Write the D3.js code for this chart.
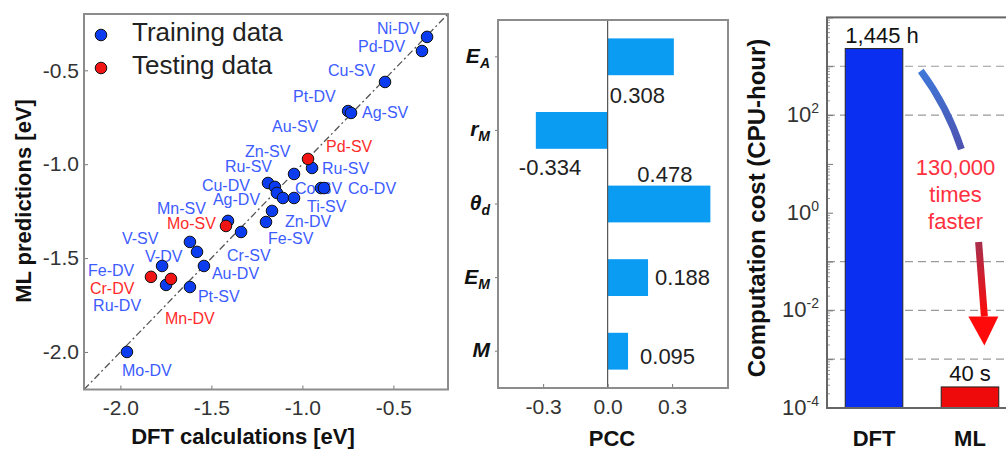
<!DOCTYPE html>
<html>
<head>
<meta charset="utf-8">
<script src="https://cdn.jsdelivr.net/npm/d3@7"></script>
<style>
  body { margin: 0; background: #fff; }
  svg { display: block; }
</style>
</head>
<body>
<svg id="chart" width="1006" height="450"></svg>
<script>
const FONT = '"Liberation Sans", Arial, Helvetica, sans-serif';

// ---------- (a) DFT vs ML formation energies ----------
const sites = ["Ni-DV","Pd-DV","Cu-SV","Pt-DV","Ag-SV","Pd-SV","Ru-SV","Au-SV","Zn-SV","Ru-SV",
               "Cu-DV","Ag-DV","Ti-SV","Co-SV","Co-DV","Zn-DV","Fe-SV","Mn-SV","Mo-SV","Cr-SV",
               "V-SV","V-DV","Au-DV","Fe-DV","Cr-DV","Mn-DV","Ru-DV","Pt-SV","Mo-DV"];
const dftEnergy = [-0.315,-0.343,-0.546,-0.749,-0.733,-0.969,-0.947,-1.046,-1.189,-1.151,
                   -1.140,-1.107,-1.046,-0.898,-0.881,-1.167,-1.200,-1.409,-1.420,-1.337,
                   -1.618,-1.579,-1.541,-1.771,-1.832,-1.722,-1.749,-1.618,-1.964];
const mlEnergy  = [-0.322,-0.397,-0.562,-0.717,-0.727,-0.972,-1.020,-1.052,-1.100,-1.121,
                   -1.153,-1.180,-1.180,-1.127,-1.127,-1.249,-1.308,-1.302,-1.329,-1.361,
                   -1.414,-1.467,-1.542,-1.542,-1.600,-1.611,-1.643,-1.654,-2.000];
const dataSet   = ["train","train","train","train","train","test","train","train","train","train",
                   "train","train","train","train","train","train","train","train","test","train",
                   "train","train","train","train","test","test","train","train","train"];
const energyTicks = [-2.0, -1.5, -1.0, -0.5];

// ---------- (b) Pearson correlation of features ----------
const features = ["E_A", "r_M", "θ_d", "E_M", "M"];
const pcc = [0.308, -0.334, 0.478, 0.188, 0.095];
const pccTicks = [-0.3, 0.0, 0.3];

// ---------- (c) computation cost ----------
const methods = ["DFT", "ML"];
const cpuHours = [2300, 2.7e-4];
const costLabels = ["1,445 h", "40 s"];
const gridDecades = [1e-3, 1e-2, 1e-1, 1e2, 1e3];
const speedupText = ["130,000", "times", "faster"];

// label nudges (pixels), kept apart from the data
const siteLabelShift = [[-50,-3],[-64,1],[-57,-6],[-55,-9],[11,5],[18,-7],[10,6],[-22,-42],[-23,-26],[-50,-15],
                        [-75,-2],[-70,7],[13,14],[-26,6],[24,6],[13,16],[2,22],[-71,-7],[-59,3],[-14,29],
                        [-68,2],[-52,10],[8,13],[-74,10],[-61,17],[-6,45],[-73,26],[8,15],[-5,24]];
const pccLabelShift = [[-64,46],[-17,45],[-73,-22],[7,7],[12,13]];

const svg = d3.select("#chart").style("font-family", FONT);

const blueDot = "#0b3cf0", redDot = "#f01414";
const blueTxt = "#3c5cff", redTxt = "#ff2b2b";
const frameCol = "#8c8c8c";

function styleAxis(g, size) {
  g.select(".domain").remove();
  g.selectAll("line").attr("stroke", "#777");
  g.selectAll("text").attr("font-size", size).attr("fill", "#333").attr("font-family", FONT);
}

// ================= panel a =================
const ax = d3.scaleLinear().domain([-2.2, -0.2]).range([84, 448]);
const ay = d3.scaleLinear().domain([-2.2, -0.2]).range([389.5, 14]);
const gA = svg.append("g");

gA.append("line")
  .attr("x1", ax(-2.2)).attr("y1", ay(-2.2))
  .attr("x2", ax(-0.2)).attr("y2", ay(-0.2))
  .attr("stroke", "#555").attr("stroke-width", 1.3)
  .attr("stroke-dasharray", "7,3,2,3");

gA.append("g").attr("transform", "translate(84,0)")
  .call(d3.axisLeft(ay).tickValues(energyTicks).tickSize(-4).tickPadding(5).tickFormat(d => d.toFixed(1)))
  .call(g => styleAxis(g, 21));
gA.append("g").attr("transform", "translate(0,389.5)")
  .call(d3.axisBottom(ax).tickValues(energyTicks).tickSize(-4).tickPadding(11).tickFormat(d => d.toFixed(1)))
  .call(g => styleAxis(g, 21));

const pts = sites.map((s, i) => ({ name: s, x: dftEnergy[i], y: mlEnergy[i], set: dataSet[i], shift: siteLabelShift[i] }));

gA.selectAll("text.site")
  .data(pts)
  .enter()
  .append("text")
  .attr("class", "site")
  .attr("x", d => ax(d.x) + d.shift[0])
  .attr("y", d => ay(d.y) + d.shift[1])
  .attr("font-size", 16)
  .attr("fill", d => d.set === "test" ? redTxt : blueTxt)
  .text(d => d.name);

gA.selectAll("circle.pt")
  .data(pts.filter(d => d.set === "train").concat(pts.filter(d => d.set === "test")))
  .enter()
  .append("circle")
  .attr("class", "pt")
  .attr("cx", d => ax(d.x))
  .attr("cy", d => ay(d.y))
  .attr("r", 5.8)
  .attr("fill", d => d.set === "test" ? redDot : blueDot)
  .attr("stroke", "#111")
  .attr("stroke-width", 1);

// legend
const legendItems = [["Training data", blueDot, 35], ["Testing data", redDot, 68]];
legendItems.forEach(([label, col, yy]) => {
  gA.append("circle").attr("cx", 101).attr("cy", yy).attr("r", 5.8).attr("fill", col).attr("stroke", "#111");
  gA.append("text").attr("x", 132).attr("y", yy + 6).attr("font-size", 26).attr("fill", "#222").text(label);
});

gA.append("rect").attr("x", 84).attr("y", 14).attr("width", 364).attr("height", 375.5)
  .attr("fill", "none").attr("stroke", frameCol).attr("stroke-width", 2);

gA.append("text").attr("x", 243).attr("y", 444).attr("text-anchor", "middle")
  .attr("font-size", 22).attr("font-weight", "bold").attr("fill", "#111")
  .text("DFT calculations [eV]");
gA.append("text").attr("transform", "translate(31,201) rotate(-90)").attr("text-anchor", "middle")
  .attr("font-size", 22).attr("font-weight", "bold").attr("fill", "#111")
  .text("ML predictions [eV]");

// ================= panel b =================
const bx = d3.scaleLinear().domain([-0.51, 0.56]).range([498, 728]);
const by = d3.scaleBand().domain(features).range([20, 388]).paddingInner(0.5).paddingOuter(0.25);
const gB = svg.append("g");

gB.selectAll("rect.bar")
  .data(features)
  .enter()
  .append("rect")
  .attr("class", "bar")
  .attr("x", (f, i) => bx(Math.min(0, pcc[i])))
  .attr("y", f => by(f))
  .attr("width", (f, i) => Math.abs(bx(pcc[i]) - bx(0)))
  .attr("height", by.bandwidth())
  .attr("fill", "#0a9cf2");

gB.append("line").attr("x1", bx(0)).attr("x2", bx(0)).attr("y1", 20).attr("y2", 388)
  .attr("stroke", "#555").attr("stroke-width", 1.2);

gB.selectAll("text.val")
  .data(features)
  .enter()
  .append("text")
  .attr("class", "val")
  .attr("x", (f, i) => bx(pcc[i]) + pccLabelShift[i][0])
  .attr("y", (f, i) => by(f) + by.bandwidth() / 2 + pccLabelShift[i][1])
  .attr("font-size", 22)
  .attr("fill", "#222")
  .text((f, i) => pcc[i].toFixed(3));

gB.append("g").attr("transform", "translate(0,388)")
  .call(d3.axisBottom(bx).tickValues(pccTicks).tickSize(-4).tickPadding(11).tickFormat(d => d.toFixed(1)))
  .call(g => styleAxis(g, 21));
gB.append("g").attr("transform", "translate(498,0)")
  .call(d3.axisLeft(by).tickSize(3).tickFormat(""))
  .call(g => styleAxis(g, 10));

const featText = gB.selectAll("text.feat")
  .data(features)
  .enter()
  .append("text")
  .attr("class", "feat")
  .attr("x", 490)
  .attr("y", f => by(f) + by.bandwidth() / 2 + 6)
  .attr("text-anchor", "end")
  .attr("font-weight", "bold")
  .attr("font-style", "italic")
  .attr("fill", "#111");
featText.append("tspan").attr("font-size", 21).text(f => f.split("_")[0]);
featText.append("tspan").attr("font-size", 14).attr("dy", 5).text(f => f.split("_")[1] || "");

gB.append("rect").attr("x", 498).attr("y", 20).attr("width", 230).attr("height", 368)
  .attr("fill", "none").attr("stroke", frameCol).attr("stroke-width", 2);

gB.append("text").attr("x", 612).attr("y", 446).attr("text-anchor", "middle")
  .attr("font-size", 22).attr("font-weight", "bold").attr("fill", "#111").text("PCC");

// ================= panel c =================
const cx = d3.scaleBand().domain(methods).range([827, 1017]).paddingInner(0.4).paddingOuter(0.19);
const cy = d3.scaleLog().domain([1e-4, 1e4]).range([408, 17.4]);
const gC = svg.append("g");

gC.selectAll("line.grid")
  .data(gridDecades)
  .enter()
  .append("line")
  .attr("class", "grid")
  .attr("x1", 827).attr("x2", 1017)
  .attr("y1", d => cy(d)).attr("y2", d => cy(d))
  .attr("stroke", "#9a9a9a").attr("stroke-width", 1.2).attr("stroke-dasharray", "8,5");

gC.selectAll("rect.cost")
  .data(methods)
  .enter()
  .append("rect")
  .attr("class", "cost")
  .attr("x", m => cx(m))
  .attr("y", (m, i) => cy(cpuHours[i]))
  .attr("width", cx.bandwidth())
  .attr("height", (m, i) => cy(1e-4) - cy(cpuHours[i]))
  .attr("fill", (m, i) => i === 0 ? "#0a2ff0" : "#ee0a0a")
  .attr("stroke", "#222").attr("stroke-width", 1);

gC.selectAll("text.cost")
  .data(methods)
  .enter()
  .append("text")
  .attr("class", "cost")
  .attr("x", (m, i) => cx(m) + cx.bandwidth() / 2 + (i === 0 ? 8 : 0))
  .attr("y", (m, i) => cy(cpuHours[i]) - 6)
  .attr("text-anchor", "middle")
  .attr("font-size", 22)
  .attr("fill", "#111")
  .text((m, i) => costLabels[i]);

// log axis: major and minor ticks
const decades = d3.range(-4, 5).map(e => Math.pow(10, e));
const minorTicks = cy.ticks().filter(t => Math.abs(Math.log10(t) - Math.round(Math.log10(t))) > 1e-6);
gC.append("g").attr("transform", "translate(827,0)")
  .call(d3.axisLeft(cy).tickValues(decades).tickSize(-6).tickFormat(""))
  .call(g => styleAxis(g, 10));
gC.append("g").attr("transform", "translate(827,0)")
  .call(d3.axisLeft(cy).tickValues(minorTicks).tickSize(-3).tickFormat(""))
  .call(g => styleAxis(g, 10))
  .call(g => g.selectAll("line").attr("stroke", "#999"));

const expLabels = gC.selectAll("text.exp")
  .data(decades.filter((d, i) => i % 2 === 0 && i < 8))
  .enter()
  .append("text")
  .attr("class", "exp")
  .attr("x", 819)
  .attr("y", d => cy(d) + 7)
  .attr("text-anchor", "end")
  .attr("fill", "#333");
expLabels.append("tspan").attr("font-size", 22).text("10");
expLabels.append("tspan").attr("font-size", 14).attr("dy", -9).text(d => String(Math.round(Math.log10(d))));

gC.append("g").attr("transform", "translate(0,408)")
  .call(d3.axisBottom(cx).tickSize(0).tickPadding(22))
  .call(g => styleAxis(g, 22))
  .call(g => g.selectAll("text").attr("font-weight", "bold").attr("fill", "#111"));

gC.append("rect").attr("x", 827).attr("y", 17.4).attr("width", 190).attr("height", 390.6)
  .attr("fill", "none").attr("stroke", "#666").attr("stroke-width", 2);

gC.append("text").attr("transform", "translate(765,208) rotate(-90)").attr("text-anchor", "middle")
  .attr("font-size", 24).attr("font-weight", "bold").attr("fill", "#111")
  .text("Computation cost (CPU-hour)");

// speed-up annotation
const defs = svg.append("defs");
const gBlue = defs.append("linearGradient").attr("id", "gBlue").attr("gradientUnits", "userSpaceOnUse")
  .attr("x1", 0).attr("x2", 0).attr("y1", cy(800)).attr("y2", cy(20));
gBlue.append("stop").attr("offset", 0).attr("stop-color", "#3f78d8");
gBlue.append("stop").attr("offset", 1).attr("stop-color", "#4d52b0");
const gRed = defs.append("linearGradient").attr("id", "gRed").attr("gradientUnits", "userSpaceOnUse")
  .attr("x1", 0).attr("x2", 0).attr("y1", cy(0.25)).attr("y2", cy(0.007));
gRed.append("stop").attr("offset", 0).attr("stop-color", "#a8304c");
gRed.append("stop").attr("offset", 1).attr("stop-color", "#ff0a0a");

const dftRight = cx("DFT") + cx.bandwidth();
const mlLeft = cx("ML"), bw = cx.bandwidth();

const arcPath = d3.path();
arcPath.moveTo(dftRight + 18, cy(800));
arcPath.quadraticCurveTo(mlLeft + 6, cy(150), mlLeft + bw * 0.35, cy(20));
gC.append("path").attr("d", arcPath.toString())
  .attr("fill", "none").attr("stroke", "url(#gBlue)").attr("stroke-width", 7);

const tipX = mlLeft + bw * 0.75;
const shaft = d3.path();
shaft.moveTo(mlLeft + bw * 0.65, cy(0.25));
shaft.quadraticCurveTo(tipX - 3, cy(0.05), tipX, cy(0.0075));
gC.append("path").attr("d", shaft.toString())
  .attr("fill", "none").attr("stroke", "url(#gRed)").attr("stroke-width", 7);
const head = d3.path();
head.moveTo(tipX - 16, cy(0.0075));
head.lineTo(tipX + 14, cy(0.0075));
head.lineTo(tipX, cy(0.0019));
head.closePath();
gC.append("path").attr("d", head.toString()).attr("fill", "#ff0a0a");

gC.selectAll("text.speed")
  .data(speedupText)
  .enter()
  .append("text")
  .attr("class", "speed")
  .attr("x", mlLeft + bw / 4)
  .attr("y", (t, i) => cy(10) + 11 + i * 27)
  .attr("text-anchor", "middle")
  .attr("font-size", 22)
  .attr("fill", "#ff3040")
  .text(t => t);
</script>
</body>
</html>
